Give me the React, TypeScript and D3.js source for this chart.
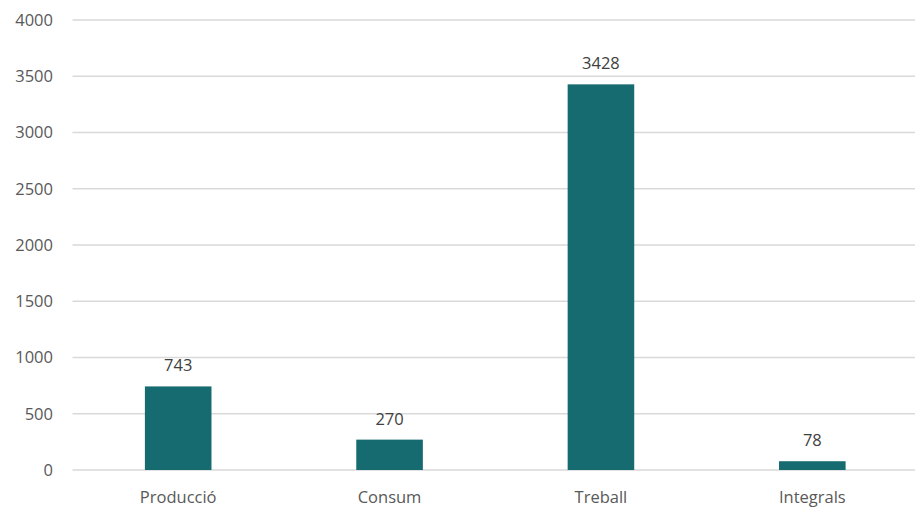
import React from "react";
import * as d3 from "d3";

const categories = ["Producció", "Consum", "Treball", "Integrals"];
const values = [743, 270, 3428, 78];
const yTicks = [0, 500, 1000, 1500, 2000, 2500, 3000, 3500, 4000];

export default function App() {
  const W = 920, H = 513;
  const left = 72.5, right = 918, top = 20, bottom = 470;
  const x = d3.scaleBand<string>().domain(categories).range([left, right]).paddingInner(0.685).paddingOuter(0.3425);
  const y = d3.scaleLinear().domain([0, 4000]).range([bottom, top]);
  const font = "'Open Sans', sans-serif";
  const txt = "#595959";
  const fs = 16.5;
  return (
    <svg width={W} height={H} style={{ position: "absolute", left: 0, top: 0 }} fontFamily={font}>
      <rect width={W} height={H} fill="#fff" />
      {yTicks.map((t) => (
        <g key={t}>
          <line x1={left} x2={915} y1={y(t)} y2={y(t)} stroke="#d9d9d9" strokeWidth={1.3} />
          <text x={53} y={y(t)} dy="0.35em" textAnchor="end" fontSize={fs} fill={txt}>{t}</text>
        </g>
      ))}
      {categories.map((c, i) => (
        <g key={c}>
          <rect x={x(c)} y={y(values[i])} width={x.bandwidth()} height={y(0) - y(values[i])} fill="#156b70" />
          <text x={(x(c) as number) + x.bandwidth() / 2} y={y(values[i]) - 15} textAnchor="middle" fontSize={fs} fill="#404040">{values[i]}</text>
          <text x={(x(c) as number) + x.bandwidth() / 2} y={503} textAnchor="middle" fontSize={fs} fill={txt}>{c}</text>
        </g>
      ))}
    </svg>
  );
}
